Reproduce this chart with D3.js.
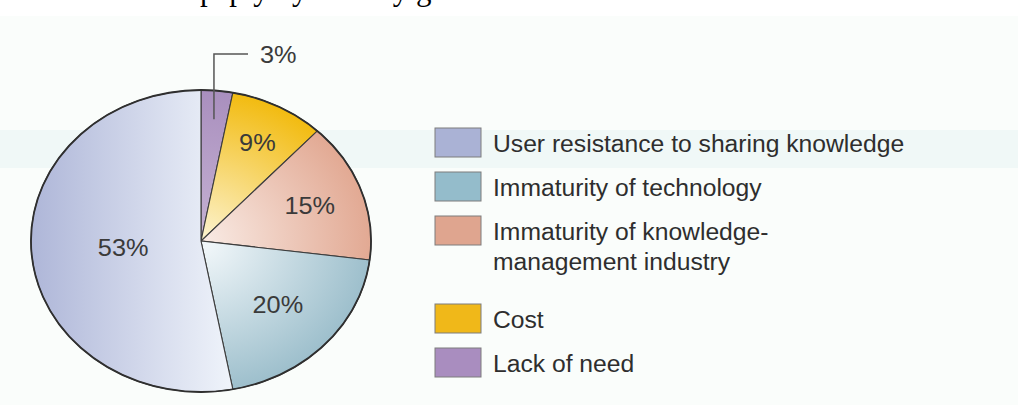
<!DOCTYPE html>
<html>
<head>
<meta charset="utf-8">
<script src="https://cdn.jsdelivr.net/npm/d3@7"></script>
<style>
  body { margin: 0; background: #fff; }
  svg { display: block; }
</style>
</head>
<body>
<div id="chart"></div>
<script>
// Data: slices clockwise from 12 o'clock
const categories = ["Lack of need", "Cost", "Immaturity of knowledge-management industry", "Immaturity of technology", "User resistance to sharing knowledge"];
const values = [3, 9, 15, 20, 53];
const pctLabels = ["3%", "9%", "15%", "20%", "53%"];

// Legend order (top to bottom), with wrapped lines
const legendKeys = ["User resistance to sharing knowledge", "Immaturity of technology", "Immaturity of knowledge-management industry", "Cost", "Lack of need"];
const legendLines = [["User resistance to sharing knowledge"], ["Immaturity of technology"], ["Immaturity of knowledge-", "management industry"], ["Cost"], ["Lack of need"]];

// Colours: swatch, slice outer, slice inner
const swatchColor = { "User resistance to sharing knowledge": "#aab2d5", "Immaturity of technology": "#94bccb", "Immaturity of knowledge-management industry": "#dfa58f", "Cost": "#f0b819", "Lack of need": "#a98dbf" };
const outerColor = ["#a98fbe", "#f2bb10", "#e2a993", "#9dbfcc", "#aeb6d8"];
const innerColor = ["#c4b0d2", "#fcf1c8", "#f8e8e1", "#f0f6f9", "#f4f8fd"];
// how far out each percentage label sits (fraction of radius)
const labelDist = [0.81, 0.73, 0.68, 0.62, 0.46];

const width = 1018, height = 405;
const cx = 201, cy = 241, r = 151, sx = 1.126;

const svg = d3.select("#chart").append("svg")
    .attr("width", width)
    .attr("height", height);

// page background (scan)
svg.append("rect").attr("width", width).attr("height", height).attr("fill", "#fafdfb");
svg.append("rect").attr("width", width).attr("height", 16).attr("fill", "#ffffff");
svg.append("rect").attr("y", 130).attr("width", width).attr("height", 38).attr("fill", "#f0f8f7");

// cut off line of text at the very top
svg.append("text")
    .attr("x", 200).attr("y", 0)
    .style("font-family", "'Liberation Serif', 'Times New Roman', serif")
    .style("font-size", "31px")
    .style("fill", "#000")
    .text("paply by cliently generated");

const defs = svg.append("defs");
values.forEach((v, i) => {
    let g;
    if (i === 4) {
        g = defs.append("linearGradient").attr("id", "grad" + i)
            .attr("gradientUnits", "userSpaceOnUse")
            .attr("x1", -r).attr("y1", 0).attr("x2", 40).attr("y2", 0);
    } else {
        g = defs.append("radialGradient").attr("id", "grad" + i)
            .attr("gradientUnits", "userSpaceOnUse")
            .attr("cx", 0).attr("cy", 0).attr("r", r);
    }
    g.append("stop").attr("offset", i === 4 ? "0%" : "5%").attr("stop-color", i === 4 ? outerColor[i] : innerColor[i]);
    g.append("stop").attr("offset", "100%").attr("stop-color", i === 4 ? innerColor[i] : outerColor[i]);
});

const pie = d3.pie().sort(null).value(d => d)(values);
const arc = d3.arc().innerRadius(0).outerRadius(r);

const pieG = svg.append("g")
    .attr("transform", `translate(${cx},${cy}) scale(${sx},1)`);

pieG.selectAll("path.slice")
    .data(pie)
    .enter().append("path")
    .attr("class", "slice")
    .attr("d", arc)
    .attr("fill", (d, i) => `url(#grad${i})`)
    .attr("stroke", "#3d3d3d")
    .attr("stroke-width", 1.1)
    .attr("vector-effect", "non-scaling-stroke");

pieG.append("circle")
    .attr("r", r)
    .attr("fill", "none")
    .attr("stroke", "#2f2f2f")
    .attr("stroke-width", 1.8)
    .attr("vector-effect", "non-scaling-stroke");

// percentage labels
const labelPos = (d, i) => {
    const a = d3.arc().innerRadius(r * labelDist[i]).outerRadius(r * labelDist[i]);
    const c = a.centroid(d);
    return [cx + c[0] * sx, cy + c[1]];
};

const labelStyle = sel => sel
    .style("font-family", "'Liberation Sans', Arial, Helvetica, sans-serif")
    .style("font-size", "23px")
    .style("fill", "#3a3a3a");

pie.forEach((d, i) => {
    const [x, y] = labelPos(d, i);
    if (i === 0) {
        // small slice: leader line up and to the right
        const topY = 54, endX = 248;
        svg.append("path")
            .attr("d", `M${x},${y}V${topY}H${endX}`)
            .attr("fill", "none")
            .attr("stroke", "#555")
            .attr("stroke-width", 1.5);
        svg.append("text")
            .attr("transform", `translate(${endX + 12},${topY + 9}) scale(1.1,1)`)
            .call(labelStyle)
            .text(pctLabels[i]);
    } else {
        svg.append("text")
            .attr("transform", `translate(${x},${y + 8}) scale(1.1,1)`)
            .attr("text-anchor", "middle")
            .call(labelStyle)
            .text(pctLabels[i]);
    }
});

// legend
const legendX = 435, legendTop = 128, lineStep = 44;
let lineCount = 0;
legendKeys.forEach((key, i) => {
    const y = legendTop + lineCount * lineStep;
    svg.append("rect")
        .attr("x", legendX).attr("y", y)
        .attr("width", 46).attr("height", 29)
        .attr("fill", swatchColor[key])
        .attr("stroke", "#7d7d7d")
        .attr("stroke-width", 1);
    const t = svg.append("text")
        .attr("transform", `translate(${legendX + 58},${y + 24}) scale(1.05,1)`)
        .style("font-family", "'Liberation Sans', Arial, Helvetica, sans-serif")
        .style("font-size", "23.5px")
        .style("fill", "#2e2e2e");
    legendLines[i].forEach((line, j) => {
        t.append("tspan").attr("x", 0).attr("dy", j === 0 ? 0 : 30).text(line);
    });
    lineCount += legendLines[i].length;
});
</script>
</body>
</html>
